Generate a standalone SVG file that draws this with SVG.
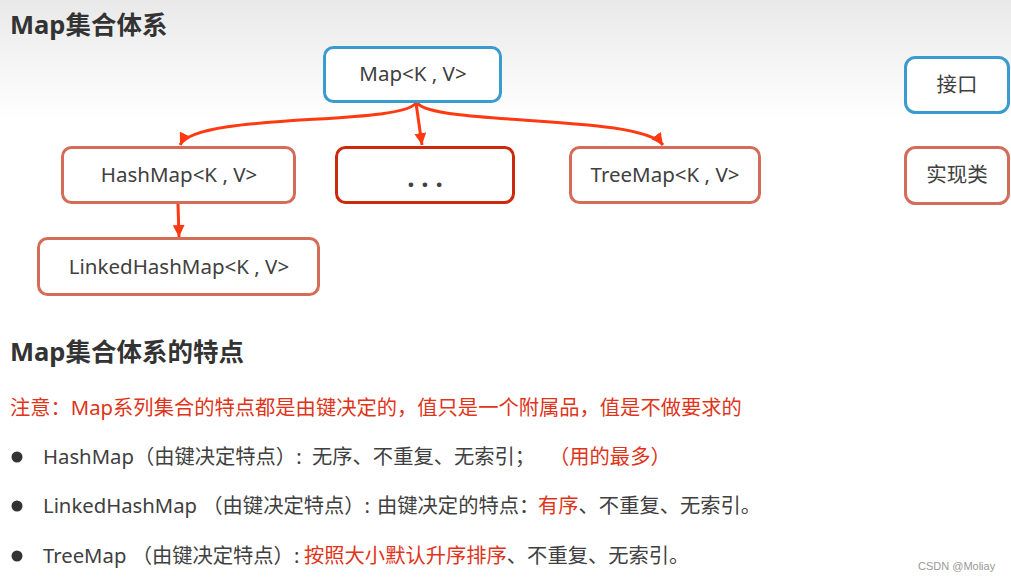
<svg xmlns="http://www.w3.org/2000/svg" width="1011" height="583" viewBox="0 0 1011 583">
<defs>
<linearGradient id="bg" x1="0" y1="0" x2="0" y2="1">
<stop offset="0" stop-color="#e9e9e9"/>
<stop offset="1" stop-color="#ffffff"/>
</linearGradient>
<marker id="ah" markerWidth="12" markerHeight="12" refX="10" refY="5" orient="auto" markerUnits="userSpaceOnUse" viewBox="0 0 10 10">
<path d="M0,0 L10,5 L0,10 z" fill="#ff3a12"/>
</marker>
<style>
.iface{fill:#fff;stroke:#3a9bd1;stroke-width:3}
.impl{fill:#fff;stroke:#d46c5a;stroke-width:3}
.dots{fill:#fff;stroke:#cc2a0c;stroke-width:3}
.lbl{font-family:"Noto Sans","Noto Sans CJK SC",sans-serif;font-size:20.5px;fill:#404040;text-anchor:middle}
.h{font-family:"Noto Sans","Noto Sans CJK SC",sans-serif;font-size:25.5px;font-weight:bold;fill:#333}
.t{font-family:"Noto Sans","Noto Sans CJK SC",sans-serif;font-size:20.3px;fill:#404040}
.r{fill:#e0341a}
.conn{fill:none;stroke:#ff3a12;stroke-width:3;marker-end:url(#ah)}
</style>
</defs>
<rect x="0" y="0" width="1011" height="583" fill="#fff"/>
<rect x="0" y="0" width="1011" height="120" fill="url(#bg)"/>
<text class="h" x="10" y="34">Map集合体系</text>

<g id="connectors">
<path class="conn" d="M416,103 C400,126 196,112 180,145"/>
<path class="conn" d="M416,103 L422,145"/>
<path class="conn" d="M417,103 C436,126 640,114 663,145"/>
<path class="conn" d="M178,204 L179,237"/>
</g>

<g id="map">
<rect class="iface" x="324.5" y="47.5" width="176" height="54" rx="9"/>
<text class="lbl" x="413" y="81">Map&lt;K , V&gt;</text>
</g>
<g id="hashmap">
<rect class="impl" x="62.5" y="147.5" width="232" height="55" rx="9"/>
<text class="lbl" x="179" y="182">HashMap&lt;K , V&gt;</text>
</g>
<g id="others">
<rect class="dots" x="336.5" y="147.5" width="177" height="55" rx="9"/>
<text class="lbl" x="425" y="187" style="font-size:26px;font-weight:bold">. . .</text>
</g>
<g id="treemap">
<rect class="impl" x="570.5" y="147.5" width="189" height="55" rx="9"/>
<text class="lbl" x="665" y="182">TreeMap&lt;K , V&gt;</text>
</g>
<g id="linkedhashmap">
<rect class="impl" x="38.5" y="238.5" width="280" height="56" rx="9"/>
<text class="lbl" x="179" y="274">LinkedHashMap&lt;K , V&gt;</text>
</g>
<g id="legend-interface">
<rect class="iface" x="905.5" y="57.5" width="103" height="55" rx="10"/>
<text class="lbl" x="957" y="92">接口</text>
</g>
<g id="legend-impl">
<rect class="impl" x="905.5" y="147.5" width="103" height="56" rx="10"/>
<text class="lbl" x="957" y="182">实现类</text>
</g>

<text class="h" x="10" y="361">Map集合体系的特点</text>
<text class="t r" x="10" y="415">注意：Map系列集合的特点都是由键决定的，值只是一个附属品，值是不做要求的</text>

<circle cx="17" cy="457" r="5.5" fill="#333"/>
<text class="t" x="43" y="464">HashMap（由键决定特点）: <tspan x="312">无序、不重复、无索引；</tspan></text>
<text class="t r" x="549" y="464">（用的最多）</text>

<circle cx="17" cy="506" r="5.5" fill="#333"/>
<text class="t" x="43" y="513">LinkedHashMap （由键决定特点）:<tspan x="377">由键决定的特点：</tspan><tspan class="r" x="538">有序</tspan>、不重复、无索引。</text>

<circle cx="17" cy="556" r="5.5" fill="#333"/>
<text class="t" x="43" y="563">TreeMap （由键决定特点）:<tspan class="r" x="304">按照大小默认升序排序</tspan>、不重复、无索引。</text>

<text x="918" y="570" style="font-family:'Liberation Sans',Arial,sans-serif;font-size:11px;fill:#999">CSDN @Moliay</text>
</svg>
